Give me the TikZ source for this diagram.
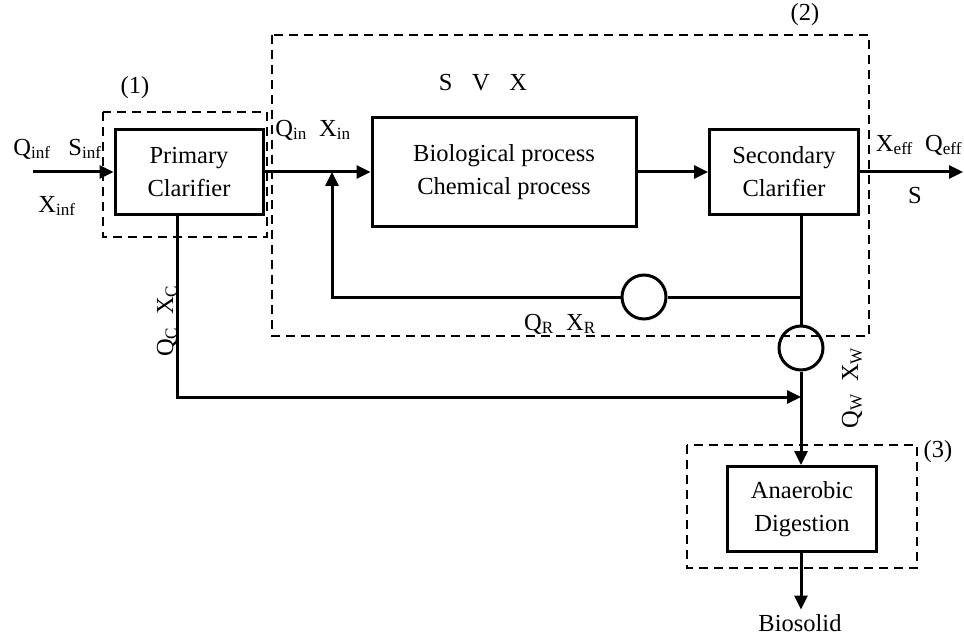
\documentclass[tikz,border=0pt]{standalone}
\usepackage{fontspec}
\setmainfont{Liberation Serif}
\usetikzlibrary{arrows.meta, positioning}

\begin{document}
\begin{tikzpicture}[x=1pt, y=-1pt, >={Triangle[length=14pt, width=13pt]},
  font=\fontsize{24.5}{33}\selectfont, line width=3pt,
  block/.style={draw, align=center, inner sep=0pt},
  pump/.style={draw, circle, minimum size=44pt, inner sep=0pt},
  groupbox/.style={line width=2.8pt, dash pattern=on 9pt off 6pt}]
  \useasboundingbox (0,0) rectangle (964,639);

  % Bloky
  \node[block, minimum width=148pt, minimum height=85pt] (pc) at (189,172) {Primary\\Clarifier};
  \node[block, minimum width=264pt, minimum height=109pt] (bio) at (504,172) {Biological process\\Chemical process};
  \node[block, minimum width=149pt, minimum height=85pt] (sc) at (784,172) {Secondary\\Clarifier};
  \node[block, minimum width=149pt, minimum height=85pt] (ad) at (802,509) {Anaerobic\\Digestion};
  \node[pump] (rp) at (644,297) {};
  \node[pump] (wp) at (801,348) {};
  \node (bsl) at (800,623) {Biosolid};

  % Pomocne body
  \coordinate (in) at (33,172);
  \coordinate (jn) at (332,172);
  \coordinate (sp) at (801,297);
  \coordinate (out) at (963,172);
  \coordinate (cl) at (177,397);
  \coordinate (cm) at (801,397);

  % Hranice subsystemu
  \draw[groupbox] (103,112) rectangle (267,237);
  \draw[groupbox] (272,35) rectangle (869,336);
  \draw[groupbox] (687,445) rectangle (917,568);

  % Toky
  \draw[->] (in) -- (pc.west);
  \draw[->] (pc.east) -- (bio.west);
  \draw[->] (bio.east) -- (sc.west);
  \draw[->] (sc.east) -- (out);
  \draw (sc.south -| sp) -- (wp.north);
  \draw (sp) -- (rp.east);
  \draw[->] (rp.west) -| (jn);
  \draw[->] (pc.south -| cl) -- (cl) -- (cm);
  \draw[->] (wp.south) -- (ad.north -| wp);
  \draw[->] (ad.south -| wp) -- (bsl.north -| wp);

  % Popisky
  \node at (32,149) {Q\textsubscript{inf}};
  \node at (85,149) {S\textsubscript{inf}};
  \node at (57,206) {X\textsubscript{inf}};
  \node at (135,88) {(1)};
  \node at (313,130) {Q\textsubscript{in}\enspace X\textsubscript{in}};
  \node at (483,83) {S\hspace{.8em}V\hspace{.8em}X};
  \node at (805,15) {(2)};
  \node at (919,145) {X\textsubscript{eff}\enspace Q\textsubscript{eff}};
  \node at (915,196) {S};
  \node at (560,324) {Q\textsubscript{R}\enspace X\textsubscript{R}};
  \node[rotate=90] at (167,321) {Q\textsubscript{C}\enspace X\textsubscript{C}};
  \node[rotate=90] at (852,388) {Q\textsubscript{W}\enspace X\textsubscript{W}};
  \node at (938,452) {(3)};
\end{tikzpicture}
\end{document}
